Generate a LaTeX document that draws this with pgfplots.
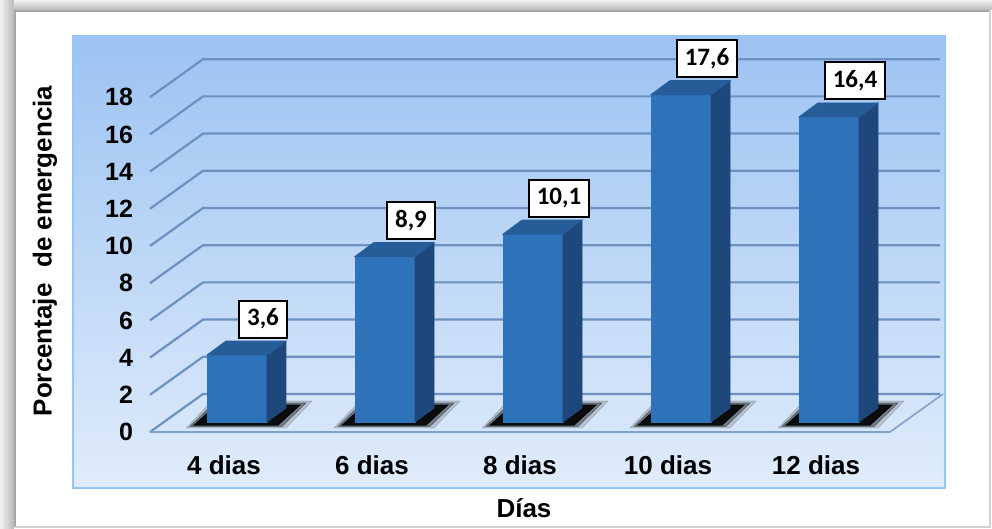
\documentclass[border=0pt]{standalone}
\usepackage{pgfplots}
\pgfplotsset{compat=1.18}
\usepackage{pgfplotstable}
\usepackage{fontspec}
\setmainfont{Liberation Sans}
\newfontfamily\calibri{Carlito}
\definecolor{barfront}{RGB}{46,114,186}
\definecolor{barside}{RGB}{30,72,124}
\definecolor{bartop}{RGB}{38,92,152}
\definecolor{gridc}{RGB}{108,144,192}
\definecolor{bgtop}{RGB}{156,195,242}
\definecolor{bgbot}{RGB}{224,236,251}
\definecolor{floorc}{RGB}{214,230,250}
\definecolor{edgec}{RGB}{150,198,248}
\newcommand{\pp}[2]{({(#1-150)*0.5pt},{(432-#2)*0.5pt})}
% shadow parallelogram: #1 opacity, #2 left x, #3 right x, #4 bottom y, #5 top y, #6 slant
\newcommand{\shpoly}[6]{\fill[black, opacity=#1] ({#2},{#4-\hh}) -- ({#3},{#4-\hh}) -- ({#3+#6},{#5-\hh}) -- ({#2+#6},{#5-\hh}) -- cycle;}
\pgfplotstableread{
x v lab
0 3.6 3,6
1 8.9 8,9
2 10.1 10,1
3 17.6 17,6
4 16.4 16,4
}\datatab
\begin{document}
\begin{tikzpicture}
\useasboundingbox \pp{0}{0} rectangle \pp{992}{529};
\fill[white] \pp{0}{0} rectangle \pp{992}{529};
% frame with soft shadow on top and left
\shade[left color=gray!10, right color=gray!55] \pp{0}{0} rectangle \pp{14}{529};
\shade[top color=gray!10, bottom color=gray!55] \pp{14}{0} rectangle \pp{992}{10};
\fill[white] \pp{15}{11} rectangle \pp{992}{529};
\draw[gray!70, line width=1pt] \pp{15}{527} -- \pp{15}{11} -- \pp{990}{11};
\draw[gray!35, line width=0.8pt] \pp{15}{527} -- \pp{990}{527} -- \pp{990}{11};
% plot area
\shade[top color=bgtop, bottom color=bgbot] \pp{73}{36} rectangle \pp{945}{488};
\draw[edgec, line width=1pt] \pp{73}{36} rectangle \pp{945}{488};
\fill[floorc, opacity=0.8] \pp{150}{432} -- \pp{890}{432} -- \pp{943}{394} -- \pp{203}{394} -- cycle;
\foreach \v in {0,2,...,18}{
  \draw[gridc, line width=1.1pt] (0pt,{\v*9.3pt}) -- ++(26.5pt,19pt) -- ({395pt},{\v*9.3pt+19pt});
}
\draw[gridc!85, line width=0.8pt] (0pt,0pt) -- (370pt,0pt) -- ++(26.5pt,19pt);
\begin{axis}[
  at={(0,0)}, anchor=south west,
  x=74pt, y=9.3pt,
  xmin=-0.5, xmax=4.5, ymin=0, ymax=18,
  clip=false,
  axis x line*=bottom, axis y line*=left,
  axis line style={draw=none},
  tick style={draw=none},
  major tick length=0pt,
  ytick={0,2,...,18},
  xtick={0,1,2,3,4},
  xticklabels={4 dias,6 dias,8 dias,10 dias,12 dias},
  /pgf/number format/assume math mode=true,
  yticklabel style={font=\bfseries\fontsize{12.5}{14}\selectfont, anchor=east, xshift=-5pt},
  xticklabel style={font=\bfseries\fontsize{13}{15}\selectfont, anchor=center, yshift=-16.5pt},
]
% 3-D bars: shadow, front face, side face, top face
\addplot[scatter, only marks, mark=*, mark size=0.1pt,
  visualization depends on={\thisrow{v} \as \rawv},
  scatter/@pre marker code/.code={%
    \pgfmathsetlengthmacro\hh{\rawv*9.3pt}%
    \shpoly{0.15}{-19pt}{31pt}{2pt}{15.5pt}{13pt}
    \shpoly{0.35}{-17pt}{29pt}{2.8pt}{14.5pt}{12pt}
    \shpoly{0.9}{-15pt}{27pt}{3.4pt}{13.5pt}{11pt}
    \fill[barfront] (-8.5pt,{5pt-\hh}) rectangle (21.5pt,5pt);
    \fill[barside] (21.5pt,5pt) -- ++(9.5pt,7pt) -- ++(0pt,-\hh) -- ++(-9.5pt,-7pt) -- cycle;
    \fill[bartop] (-8.5pt,5pt) -- (21.5pt,5pt) -- (31pt,12pt) -- (1pt,12pt) -- cycle;
    \scope[opacity=0]},
  scatter/@post marker code/.code={\endscope},
] table[x=x, y=v]{\datatab};
% value labels
\addplot[draw=none, nodes near coords, point meta=explicit symbolic,
  every node near coord/.append style={anchor=center, xshift=19.5pt, yshift=23pt,
    draw=black, line width=1pt, fill=white, text=black,
    font=\calibri\bfseries\fontsize{12.5}{14}\selectfont,
    inner xsep=4pt, minimum height=18.5pt}]
  table[x=x, y=v, meta=lab]{\datatab};
\end{axis}
\node[rotate=90, font=\bfseries\fontsize{13}{15}\selectfont] at \pp{45}{251} {Porcentaje\hspace{0.6em}de emergencia};
\node[font=\bfseries\fontsize{13}{15}\selectfont] at \pp{524}{508} {Días};
\end{tikzpicture}
\end{document}
